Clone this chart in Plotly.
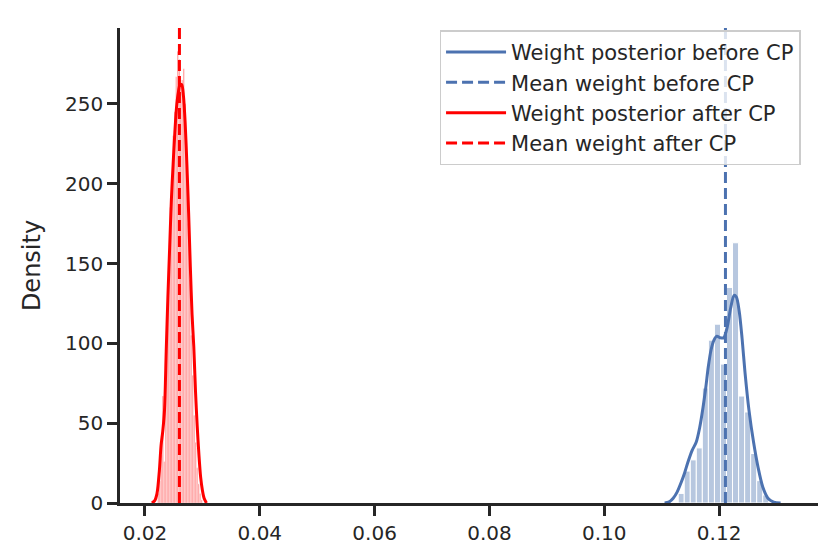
import plotly.graph_objects as go

# histogram of posterior samples, before change point (blue)
before_bin_centers = [0.11340, 0.11445, 0.11550, 0.11655, 0.11760, 0.11866, 0.11971, 0.12076,
                      0.12181, 0.12286, 0.12392, 0.12497, 0.12602, 0.12707, 0.12812]
before_bin_width = 0.001052
before_density = [6, 20, 27, 34.5, 72, 102, 112, 87, 135, 163, 67, 57, 31, 14, 5]

# kde of posterior, before change point
before_kde_x = [0.1105, 0.1112, 0.1120, 0.1127, 0.1134, 0.1140, 0.1146, 0.1153, 0.1160, 0.1166,
                0.1172, 0.1177, 0.1181, 0.1186, 0.1191, 0.1196, 0.1202, 0.1208, 0.1214, 0.1220,
                0.1226, 0.1230, 0.1235, 0.1240, 0.1245, 0.1252, 0.1260, 0.1268, 0.1276, 0.1285,
                0.1295, 0.1307]
before_kde_y = [0, 0.5, 3, 7, 13, 19, 26, 33, 38, 47,
                60, 73, 85, 96, 102, 104.5, 103.5, 103.5, 110, 122,
                130, 129, 120, 103, 82, 58, 38, 22, 10, 3,
                0.6, 0]

# histogram of posterior samples, after change point (red)
after_bin_centers = [0.02233, 0.02259, 0.02285, 0.02311, 0.02337, 0.02363, 0.02389, 0.02415,
                     0.02441, 0.02467, 0.02493, 0.02519, 0.02545, 0.02571, 0.02597, 0.02623,
                     0.02649, 0.02675, 0.02701, 0.02727, 0.02753, 0.02779, 0.02805, 0.02831,
                     0.02857, 0.02883, 0.02909, 0.02935, 0.02961, 0.02987]
after_bin_width = 0.00026
after_density = [6, 14, 30, 67, 26, 75, 110, 150, 185, 205, 230, 245, 267, 283, 278, 262,
                 265, 272, 250, 215, 175, 140, 105, 80, 55, 38, 22, 12, 6, 2]

# kde of posterior, after change point
after_kde_x = [0.0212, 0.0217, 0.0221, 0.0225, 0.0228, 0.0231, 0.0234, 0.0237, 0.0240, 0.0243,
               0.0246, 0.0249, 0.0252, 0.0255, 0.0258, 0.0261, 0.0264, 0.0267, 0.0270, 0.0273,
               0.0276, 0.0279, 0.0282, 0.0285, 0.0288, 0.0291, 0.0294, 0.0297, 0.0300, 0.0303,
               0.0307]
after_kde_y = [0, 1.5, 6, 20, 36, 45, 58, 95, 130, 160,
               190, 212, 232, 248, 257, 262, 262, 255, 238, 212,
               182, 148, 118, 98, 70, 48, 30, 16, 8, 3,
               0]

mean_before = 0.1211
mean_after = 0.0260

x_ticks = [0.02, 0.04, 0.06, 0.08, 0.10, 0.12]
y_ticks = [0, 50, 100, 150, 200, 250]
x_range = [0.01565, 0.13722]
y_top = 297.5

blue = "#4c72b0"
red = "#ff0000"
text_col = "#262626"

fig = go.Figure()

# histograms (not in legend)
fig.add_trace(go.Bar(x=before_bin_centers, y=before_density, width=before_bin_width,
                     marker=dict(color="rgba(76,114,176,0.4)", line=dict(color="white", width=1)),
                     showlegend=False, hoverinfo="skip"))
fig.add_trace(go.Bar(x=after_bin_centers, y=after_density, width=after_bin_width,
                     marker=dict(color="rgba(255,0,0,0.38)", line=dict(color="white", width=0.3)),
                     showlegend=False, hoverinfo="skip"))

# kde lines and mean lines
fig.add_trace(go.Scatter(x=before_kde_x, y=before_kde_y, mode="lines",
                         name="Weight posterior before CP",
                         line=dict(color=blue, width=3, shape="spline", smoothing=0.8)))
fig.add_trace(go.Scatter(x=[mean_before, mean_before], y=[0, y_top], mode="lines",
                         name="Mean weight before CP",
                         line=dict(color=blue, width=3, dash="11px,5px")))
fig.add_trace(go.Scatter(x=after_kde_x, y=after_kde_y, mode="lines",
                         name="Weight posterior after CP",
                         line=dict(color=red, width=3, shape="spline", smoothing=0.8)))
fig.add_trace(go.Scatter(x=[mean_after, mean_after], y=[0, y_top], mode="lines",
                         name="Mean weight after CP",
                         line=dict(color=red, width=3, dash="11px,5px")))

fig.update_layout(
    width=830, height=554,
    plot_bgcolor="white",
    paper_bgcolor="white",
    barmode="overlay",
    font=dict(family="DejaVu Sans", size=20, color=text_col),
    margin=dict(l=112, r=20, t=20, b=59),
    xaxis=dict(
        range=x_range,
        tickvals=x_ticks,
        ticktext=[f"{v:.2f}" for v in x_ticks],
        showgrid=False, zeroline=False,
        showline=True, linecolor=text_col, linewidth=2.5,
        ticks="outside", ticklen=10, tickwidth=2.5, tickcolor=text_col,
    ),
    yaxis=dict(
        range=[0, y_top],
        tickvals=y_ticks,
        title=dict(text="Density", standoff=18),
        showgrid=False, zeroline=False,
        showline=True, linecolor=text_col, linewidth=2.5,
        ticks="outside", ticklen=10, tickwidth=2.5, tickcolor=text_col,
    ),
    legend=dict(
        x=0.975, y=0.995, xanchor="right", yanchor="top",
        bgcolor="rgba(255,255,255,0.8)",
        bordercolor="#cccccc", borderwidth=1.5,
        itemwidth=60,
        font=dict(size=21, color=text_col),
    ),
)

fig.write_html("out.html")
